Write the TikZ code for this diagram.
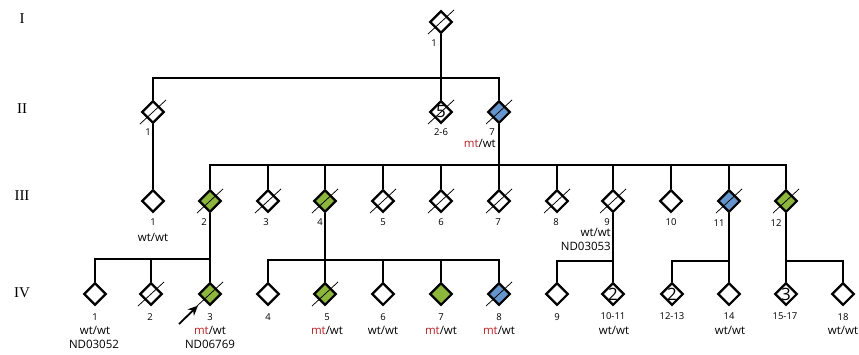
\documentclass[tikz,border=0pt]{standalone}
\usepackage{fontspec}
\setmainfont{Open Sans}
\newfontfamily\genfont{Liberation Serif}
\usetikzlibrary{shapes.geometric,arrows.meta}
\definecolor{affgreen}{RGB}{141,182,60}
\definecolor{affblue}{RGB}{100,149,205}
\definecolor{mtred}{RGB}{185,35,40}
\newcommand{\mt}{\textcolor{mtred}{mt}/wt}
\newcommand{\dead}[1]{\draw[slash] ([shift={(-13,12)}]#1.center) -- ([shift={(13,-12)}]#1.center);}

\begin{document}
\begin{tikzpicture}[x=1pt, y=-1pt,
    ind/.style={diamond, draw, line width=2.2pt, minimum size=22.5pt, inner sep=0pt, fill=white},
    bar/.style={line width=2pt},
    slash/.style={line width=0.75pt},
    num/.style={font=\fontsize{9.5}{10}\selectfont, inner sep=0pt},
    gt/.style={font=\fontsize{11.5}{12}\selectfont, inner sep=0pt},
    gen/.style={font=\genfont\fontsize{15}{16}\selectfont, inner sep=0pt}]
  \useasboundingbox (0,0) rectangle (859,354);

  % generations
  \node[gen] (gI)   at (22,19)  {I};
  \node[gen] (gII)  at (22,109) {II};
  \node[gen] (gIII) at (22,196) {III};
  \node[gen] (gIV)  at (22,293) {IV};

  % individuals
  \node[ind] (I1) at (441,22) {};
  \node[ind] (II1) at (153,112) {};
  \node[ind] (II5) at (441,112) {};
  \node[ind, fill=affblue] (II7) at (499,112) {};
  \foreach \n/\x/\c in {1/153/white, 2/210/affgreen, 3/268/white, 4/325/affgreen,
      5/383/white, 6/441/white, 7/499/white, 8/557/white, 9/613/white,
      10/671/white, 11/729/affblue, 12/786/affgreen}
    \node[ind, fill=\c] (III\n) at (\x,201) {};
  \foreach \n/\x/\c in {1/95/white, 2/151/white, 3/210/affgreen, 4/268/white,
      5/325/affgreen, 6/383/white, 7/441/affgreen, 8/499/affblue, 9/557/white,
      10/613/white, 12/672/white, 14/729/white, 15/786/white, 18/843/white}
    \node[ind, fill=\c] (IV\n) at (\x,294) {};

  % several individuals in one symbol
  \node[inner sep=0pt, font=\fontsize{17}{17}\selectfont] (cII5) at (II5) {5};
  \node[inner sep=0pt, font=\fontsize{17}{17}\selectfont] (cIV10) at (IV10) {2};
  \node[inner sep=0pt, font=\fontsize{17}{17}\selectfont] (cIV12) at (IV12) {2};
  \node[inner sep=0pt, font=\fontsize{17}{17}\selectfont] (cIV15) at (IV15) {3};

  % lines of descent
  \coordinate (sib2) at (441,78);
  \draw[bar] (I1) -- (sib2);
  \draw[bar] (II1) |- (sib2) -| (II7);
  \draw[bar] (sib2) -- (II5);
  \draw[bar] (II1) -- (III1);
  \coordinate (sib3) at (499,165);
  \draw[bar] (II7) -- (III7);
  \draw[bar] (III2) |- (sib3) -| (III12);
  \foreach \n in {3,4,5,6,8,9,10,11}
    \draw[bar] (III\n) -- (III\n |- sib3);

  \coordinate (sib4a) at (210,259);
  \draw[bar] (III2) -- (IV3);
  \draw[bar] (IV1) |- (sib4a);
  \draw[bar] (IV2) -- (IV2 |- sib4a);
  \coordinate (sib4b) at (325,260);
  \draw[bar] (III4) -- (IV5);
  \draw[bar] (IV4) |- (sib4b) -| (IV8);
  \foreach \n in {6,7}
    \draw[bar] (IV\n) -- (IV\n |- sib4b);
  \coordinate (sib4c) at (613,261);
  \draw[bar] (III9) -- (IV10);
  \draw[bar] (IV9) |- (sib4c);
  \coordinate (sib4d) at (729,261);
  \draw[bar] (III11) -- (IV14);
  \draw[bar] (IV12) |- (sib4d);
  \coordinate (sib4e) at (786,261);
  \draw[bar] (III12) -- (IV15);
  \draw[bar] (sib4e) -| (IV18);

  % deceased
  \foreach \n in {I1,II1,II5,II7,III2,III3,III4,III5,III6,III7,III8,III9,III11,III12,IV2,IV3,IV5,IV8}
    {\dead{\n}}

  % numbers
  \foreach \nm/\x/\y/\t in {nI1/434/43/1, nII1/148/132/1, nII5/441/132/2-6, nII7/492/132/7,
      nIII1/153/222/1, nIII2/204/222/2, nIII3/266/222/3, nIII4/320/222/4, nIII5/383/222/5,
      nIII6/441/222/6, nIII7/498/222/7, nIII8/556/222/8, nIII9/607/222/9, nIII10/671/222/10,
      nIII11/719/223/11, nIII12/776/223/12,
      nIV1/95/317/1, nIV2/150/317/2, nIV3/210/317/3, nIV4/268/317/4, nIV5/327/317/5,
      nIV6/383/317/6, nIV7/441/317/7, nIV8/499/317/8, nIV9/557/317/9, nIV10/613/316/10-11,
      nIV12/672/316/12-13, nIV14/729/316/14, nIV15/785/316/15-17, nIV18/843/317/18}
    \node[num] (\nm) at (\x,\y) {\t};

  % genotypes
  \node[gt, anchor=east] (tII7) at (496,143) {\mt};
  \node[gt] (tIII1) at (153,237) {wt/wt};
  \node[gt, anchor=east] (tIII9) at (611,232) {wt/wt};
  \node[gt, anchor=east] (dIII9) at (611,246) {ND03053};
  \node[gt] (tIV1) at (95,330) {wt/wt};
  \node[gt] (dIV1) at (94,344) {ND03052};
  \node[gt] (tIV3) at (210,330) {\mt};
  \node[gt] (dIV3) at (210,344) {ND06769};
  \foreach \nm/\x/\t in {tIV5/327/{\mt}, tIV6/383/{wt/wt}, tIV7/441/{\mt}, tIV8/499/{\mt},
      tIV10/614/{wt/wt}, tIV14/730/{wt/wt}, tIV18/843/{wt/wt}}
    \node[gt] (\nm) at (\x,330) {\t};

  % proband
  \coordinate (prb) at (179,324);
  \draw[line width=1.8pt, -{Stealth[length=10pt, width=9pt]}, shorten >=8pt] (prb) -- (IV3);
\end{tikzpicture}
\end{document}
